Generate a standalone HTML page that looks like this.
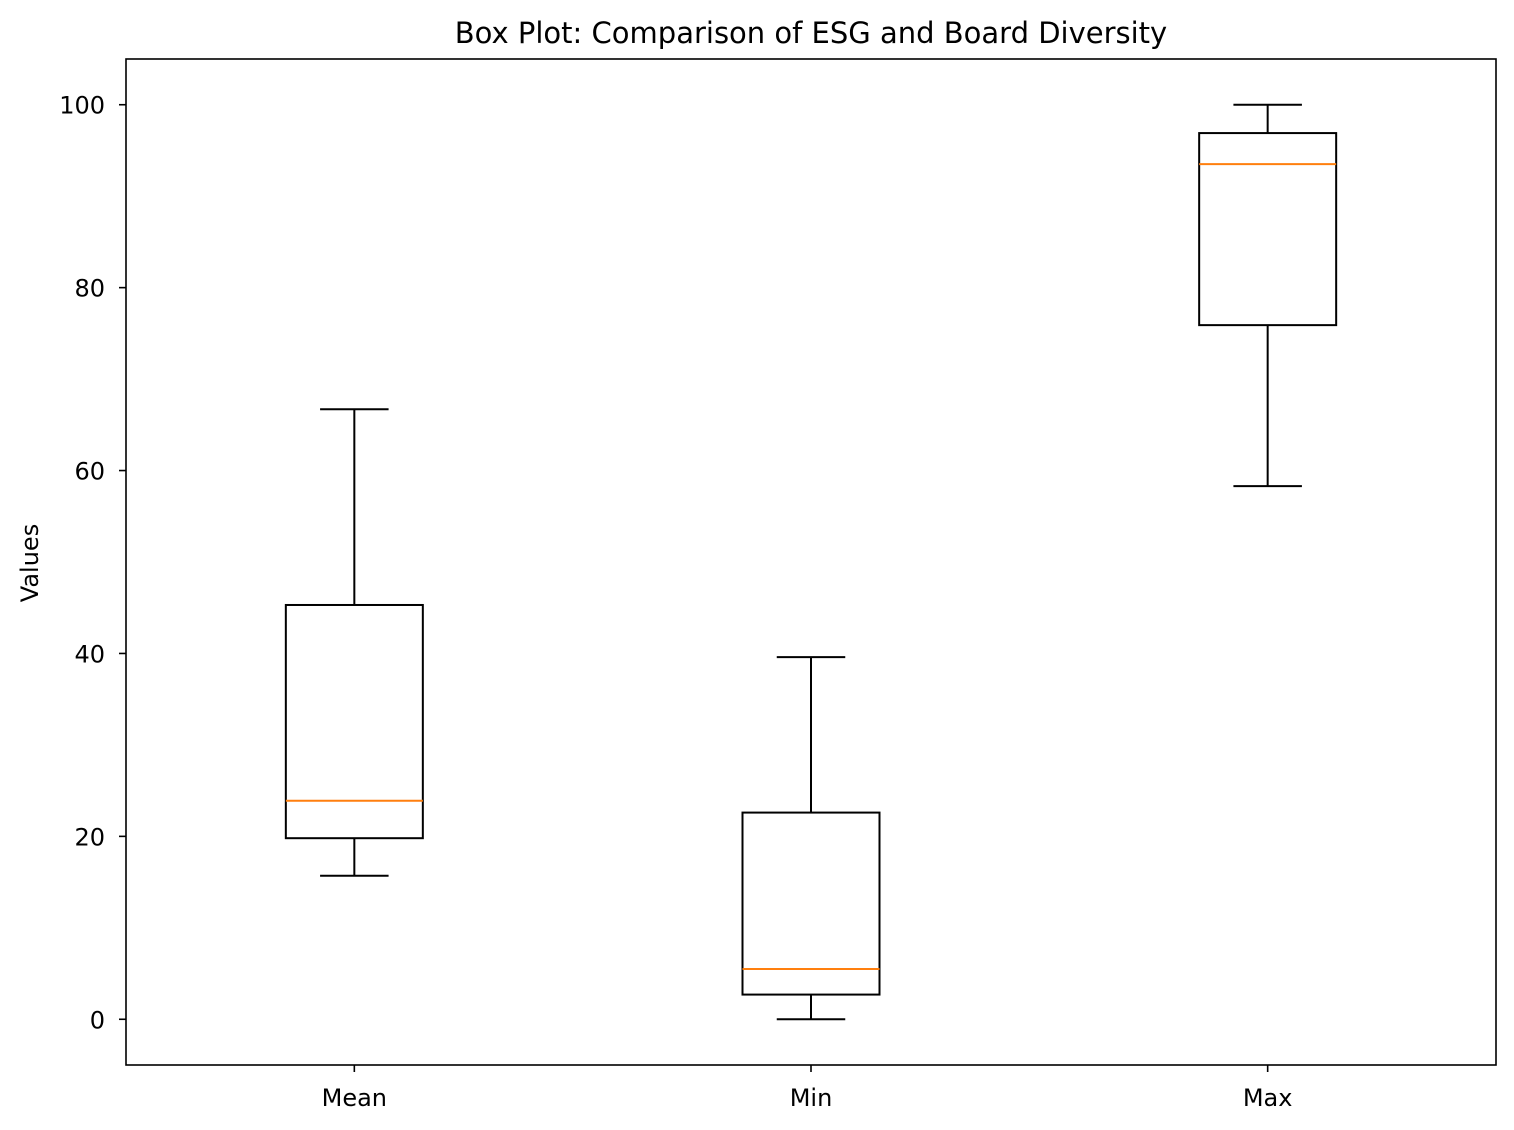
<!DOCTYPE html>
<html><head><meta charset="utf-8"><style>body{margin:0;background:#fff}svg{display:block;font-family:"DejaVu Sans","Liberation Sans",sans-serif}</style></head>
<body>
<svg id="chart" width="1514" height="1130">
<rect width="1514" height="1130" fill="#fff"/>
<text x="811" y="43" font-size="29" text-anchor="middle">Box Plot: Comparison of ESG and Board Diversity</text>
<text transform="translate(38,563) rotate(-90)" font-size="24" text-anchor="middle">Values</text>
<g id="marks"></g>
<g id="axes"></g>
<rect x="126" y="59" width="1370" height="1006" fill="none" stroke="#000" stroke-width="1.6"/>
</svg>
<script>
const categories = ["Mean", "Min", "Max"];
const whiskerLow = [15.7, 0, 58.3];
const q1 = [19.8, 2.7, 75.9];
const medians = [23.9, 5.5, 93.5];
const q3 = [45.3, 22.6, 96.9];
const whiskerHigh = [66.7, 39.6, 100];
const yTicks = [0, 20, 40, 60, 80, 100];

const L=126,R=1496,T=59,B=1065;
const y = v => B - (v + 5) / 110 * (B - T);
const x = i => L + (i + 0.5) / 3 * (R - L);
const NS="http://www.w3.org/2000/svg";
const marks=document.getElementById('marks'), axes=document.getElementById('axes');
function mk(tag, attrs, parent){const e=document.createElementNS(NS,tag);for(const k in attrs)e.setAttribute(k,attrs[k]);parent.appendChild(e);return e;}
const unit=(R-L)/3;
categories.forEach((c,i)=>{
  const cx=x(i), bw=unit*0.3, cw=unit*0.15;
  const g=mk('g',{},marks);
  
  
  const st={stroke:'#000','stroke-width':2,fill:'none'};
  mk('line',Object.assign({x1:cx,x2:cx,y1:y(whiskerLow[i]),y2:y(q1[i])},st),g);
  mk('line',Object.assign({x1:cx,x2:cx,y1:y(q3[i]),y2:y(whiskerHigh[i])},st),g);
  mk('line',Object.assign({x1:cx-cw/2,x2:cx+cw/2,y1:y(whiskerLow[i]),y2:y(whiskerLow[i])},st),g);
  mk('line',Object.assign({x1:cx-cw/2,x2:cx+cw/2,y1:y(whiskerHigh[i]),y2:y(whiskerHigh[i])},st),g);
  mk('rect',Object.assign({x:cx-bw/2,y:y(q3[i]),width:bw,height:y(q1[i])-y(q3[i])},st),g);
  mk('line',{x1:cx-bw/2,x2:cx+bw/2,y1:y(medians[i]),y2:y(medians[i]),stroke:'#ff7f0e','stroke-width':2},g);
  mk('line',{x1:cx,x2:cx,y1:B,y2:B+7,stroke:'#000','stroke-width':1.6},axes);
  const t=mk('text',{x:cx,y:B+41,'font-size':24,'text-anchor':'middle'},axes);
  t.textContent=c;
  
  
});
yTicks.forEach(v=>{
  mk('line',{x1:L-7,x2:L,y1:y(v),y2:y(v),stroke:'#000','stroke-width':1.6},axes);
  const t=mk('text',{x:L-21,y:y(v)+9,'font-size':24,'text-anchor':'end'},axes);
  t.textContent=v;
  
  
});
</script>
</body></html>
